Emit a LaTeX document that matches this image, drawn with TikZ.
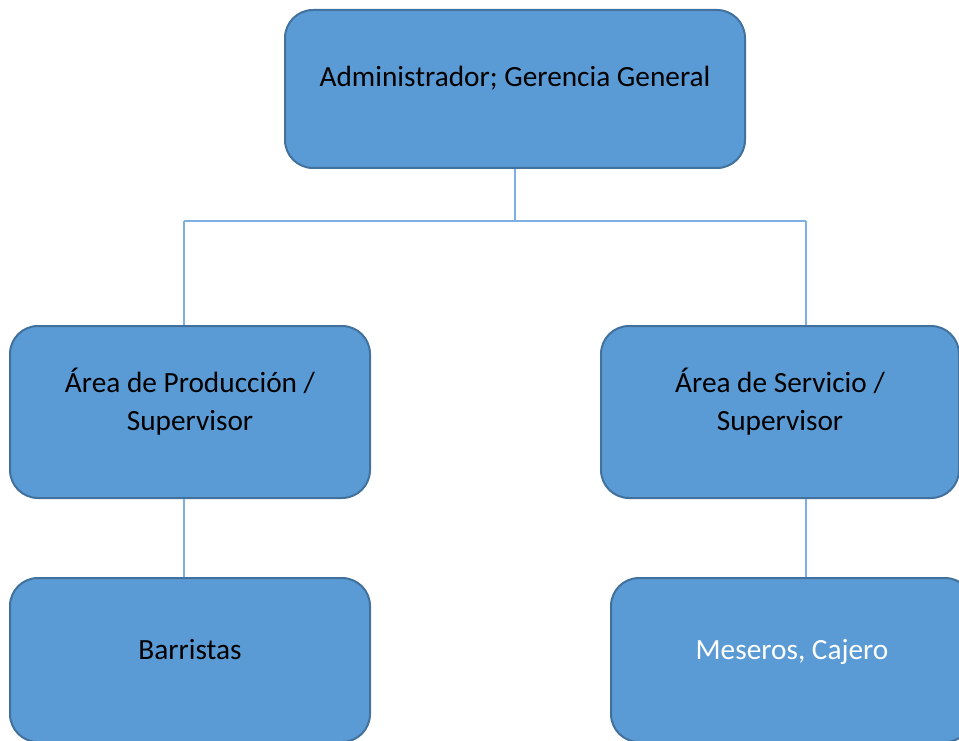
\documentclass[tikz,border=0pt]{standalone}
\usepackage{fontspec}
\setmainfont{Carlito}
\usetikzlibrary{positioning,calc}
\definecolor{orgfill}{HTML}{5B9BD5}
\definecolor{orgedge}{HTML}{41719C}
\definecolor{orgline}{HTML}{7DAFE2}

\begin{document}
\begin{tikzpicture}[
  x=1pt,y=-1pt,
  font=\fontsize{29.3}{38}\selectfont,
  unit/.style={rounded corners=28pt,draw=orgedge,fill=orgfill,line width=2pt,inner sep=0pt},
  txt/.style={align=center,inner sep=0pt},
  link/.style={orgline,line width=1.6pt}
]
\useasboundingbox (0,0) rectangle (959,741);
\clip (0,0) rectangle (959,741);
% cargo superior
\node[unit,minimum width=460pt,minimum height=158pt] (admin) at (515,89) {};
\node[txt] (admint) at (515,78) {Administrador; Gerencia General};
% areas
\node[unit,minimum width=360pt,minimum height=172pt] (prod) at (190,412) {};
\node[txt] (prodt) at (190,402) {Área de Producción /\\Supervisor};
\node[unit,minimum width=358pt,minimum height=172pt] (serv) at (780,412) {};
\node[txt] (servt) at (780,402) {Área de Servicio /\\Supervisor};
% personal
\node[unit,minimum width=360pt,minimum height=164pt] (barr) at (190,660) {};
\node[txt] (barrt) at (190,650) {Barristas};
\node[unit,minimum width=362pt,minimum height=164pt] (mese) at (792,660) {};
\node[txt,text=white] (meset) at (792,652) {Meseros, Cajero};
% ramas
\coordinate (busL) at (184,221);
\coordinate (busR) at (806,221);

\draw[link] (admin.south) -- (admin.south |- busL);
\draw[link] (busL) -- (busR);
\draw[link] (busL) -- (busL |- prod.north);
\draw[link] (busR) -- (busR |- serv.north);
\draw[link] (busL |- prod.south) -- (busL |- barr.north);
\draw[link] (busR |- serv.south) -- (busR |- mese.north);
\end{tikzpicture}
\end{document}
